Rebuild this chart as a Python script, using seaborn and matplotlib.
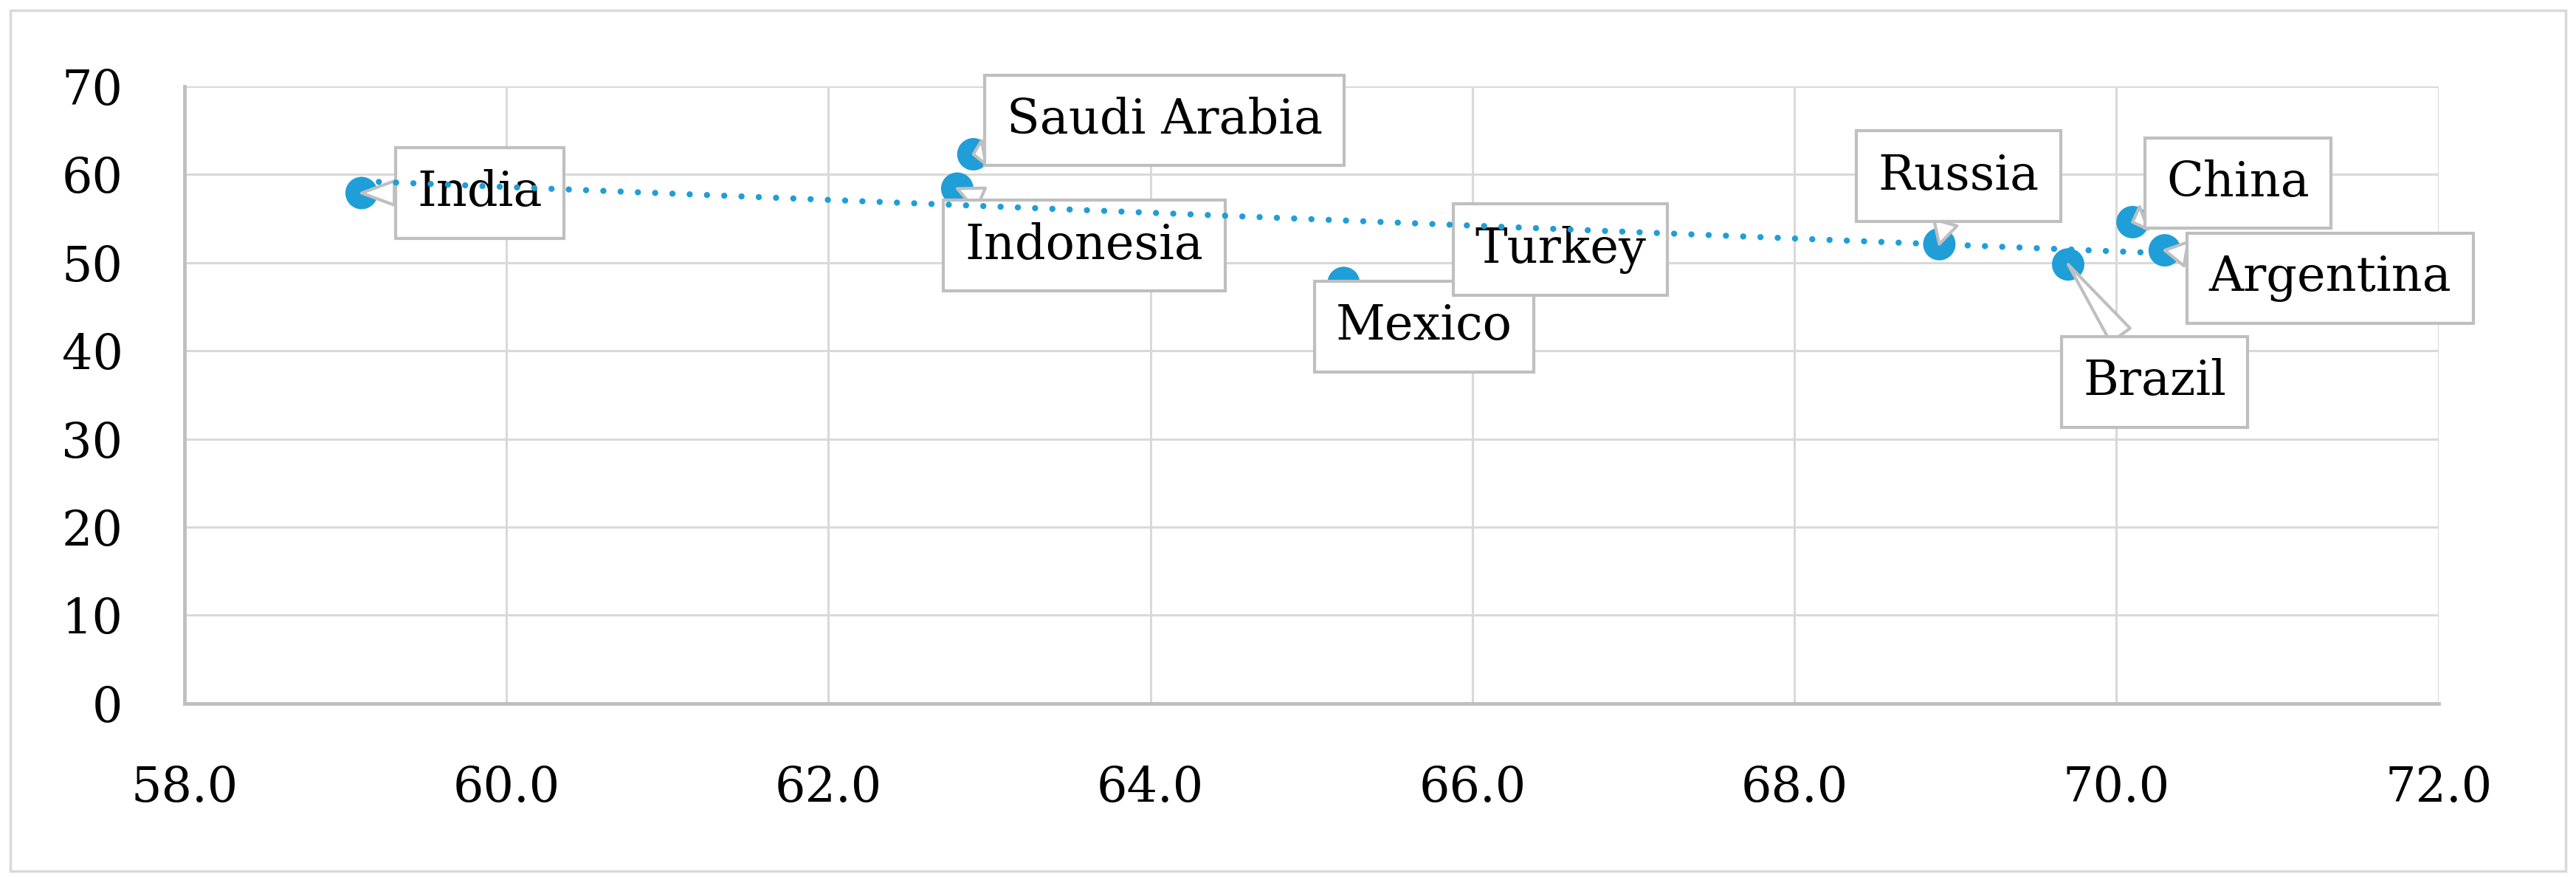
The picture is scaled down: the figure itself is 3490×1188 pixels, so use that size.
import seaborn as sns
import matplotlib.pyplot as plt
import matplotlib.patches as mpatches
import pandas as pd
import numpy as np

# Datos
paises = ["India", "Saudi Arabia", "Indonesia", "Mexico", "Turkey",
          "Russia", "China", "Brazil", "Argentina"]
eje_x = [59.1, 62.9, 62.8, 65.2, 66.0, 68.9, 70.1, 69.7, 70.3]
eje_y = [57.9, 62.3, 58.4, 47.7, 52.9, 52.1, 54.6, 49.8, 51.4]

ticks_x = [58.0, 60.0, 62.0, 64.0, 66.0, 68.0, 70.0, 72.0]
ticks_y = [0, 10, 20, 30, 40, 50, 60, 70]

df = pd.DataFrame({"pais": paises, "x": eje_x, "y": eje_y})

# Desplazamiento de cada etiqueta (en píxeles)
offsets = {
    "India": (160, 0),
    "Saudi Arabia": (259, 46),
    "Indonesia": (172, -77),
    "Mexico": (109, -59),
    "Turkey": (119, -17),
    "Russia": (26, 92),
    "China": (143, 53),
    "Brazil": (117, -159),
    "Argentina": (224, -38),
}

azul = "#1f9ed8"
gris = "#bfbfbf"
gris_claro = "#d9d9d9"

sns.set_style("white")
plt.rcParams["font.family"] = ["DejaVu Serif"]
plt.rcParams["text.color"] = "black"
plt.rcParams["xtick.color"] = "black"
plt.rcParams["ytick.color"] = "black"

fig = plt.figure(figsize=(34.9, 11.88), dpi=100)
ax = fig.add_axes([0.0716, 0.198, 0.875, 0.7035])

sns.scatterplot(data=df, x="x", y="y", s=1000, color=azul, edgecolor="none",
                ax=ax, zorder=3)
sns.regplot(data=df, x="x", y="y", ci=None, scatter=False, ax=ax,
            line_kws=dict(color=azul, lw=6, ls=(0, (0.01, 2.8)),
                          dash_capstyle="round", zorder=6))

for _, fila in df.iterrows():
    dx, dy = offsets[fila["pais"]]
    ax.annotate(fila["pais"], xy=(fila["x"], fila["y"]),
                xytext=(dx, dy), textcoords="offset pixels",
                ha="center", va="center", fontsize=47, color="black", zorder=4,
                bbox=dict(boxstyle="square,pad=0.45", fc="white", ec=gris, lw=3),
                arrowprops=dict(arrowstyle="wedge,tail_width=0.5", fc="white",
                                ec=gris, lw=3, shrinkA=0, shrinkB=0))

ax.set_xlim(58, 72)
ax.set_ylim(0, 70)
ax.set_xticks(ticks_x)
ax.set_xticklabels([f"{t:.1f}" for t in ticks_x])
ax.set_yticks(ticks_y)
ax.set_xlabel("")
ax.set_ylabel("")
ax.tick_params(axis="both", length=0, labelsize=47, pad=60, labelcolor="black")

ax.grid(True, color=gris_claro, lw=2.2)
ax.set_axisbelow(True)
for lado in ["top", "right"]:
    ax.spines[lado].set_visible(False)
for lado in ["left", "bottom"]:
    ax.spines[lado].set_color(gris)
    ax.spines[lado].set_linewidth(3.5)

# Marco exterior
fig.patches.append(mpatches.Rectangle((0.004, 0.007), 0.992, 0.981,
                                      transform=fig.transFigure, fill=False,
                                      ec=gris_claro, lw=2.5))

plt.savefig("out.png", dpi=100)
